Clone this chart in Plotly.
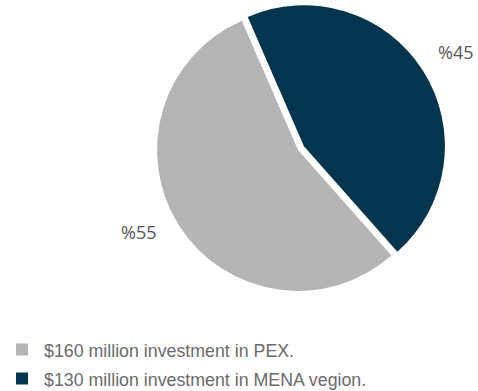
import plotly.graph_objects as go

# Investment split
labels = ["$160 million investment in PEX.", "$130 million investment in MENA vegion."]
shares = [55, 45]
colors = ["#b4b5b4", "#03354e"]
pulls = [0, 0.05]

# Percentage label anchor points (paper coords)
label_x = [0.289, 0.953]
label_y = [0.406, 0.866]

W, H = 478, 391

legend_names = [f'<span style="font-size:17.8px">{t}</span>' for t in labels]

fig = go.Figure(
    go.Pie(
        labels=legend_names,
        values=shares,
        marker=dict(colors=colors, line=dict(width=0)),
        pull=pulls,
        sort=False,
        direction="clockwise",
        rotation=138.5,
        textinfo="none",
        hoverinfo="skip",
        domain=dict(x=[0.3138, 0.9331], y=[0.2379, 0.9949]),
    )
)

for v, x, y in zip(shares, label_x, label_y):
    fig.add_annotation(
        text=f"%{v}",
        x=x, y=y, xref="paper", yref="paper",
        xanchor="center", yanchor="middle",
        showarrow=False,
        font=dict(family="Open Sans", size=18, color="#555555"),
    )

fig.update_layout(
    width=W, height=H,
    margin=dict(l=0, r=0, t=0, b=0, autoexpand=False),
    paper_bgcolor="white",
    plot_bgcolor="white",
    showlegend=True,
    legend=dict(
        x=0.0, y=1 - 330 / H, xanchor="left", yanchor="top",
        orientation="v",
        itemwidth=34,
        font=dict(family="Liberation Sans", size=20, color="#6b6b6b"),
        bgcolor="rgba(0,0,0,0)",
    ),
)

fig.write_html("out.html")
